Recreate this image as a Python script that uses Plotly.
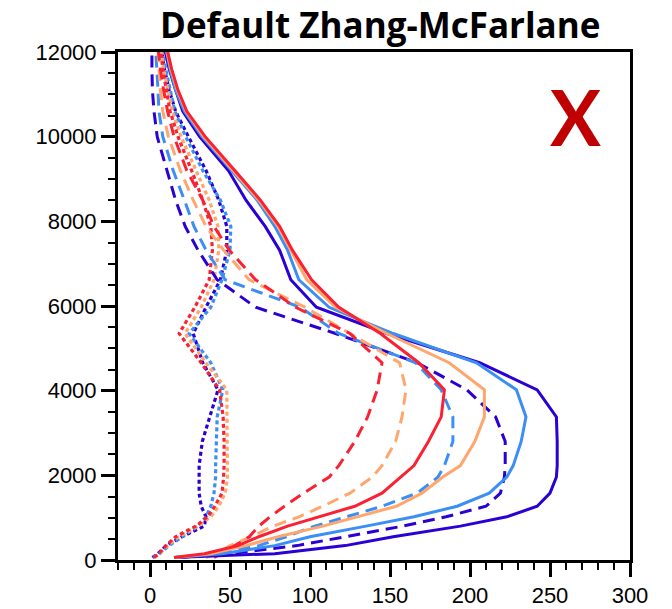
import plotly.graph_objects as go

# Heights (m) shared by every profile
height_m = [60, 150, 340, 550, 800, 1020, 1270, 1580, 1960, 2230, 2800, 3380,
            4020, 4660, 5350, 5970, 6620, 7320, 7880, 8500, 9200, 10000,
            10600, 11100, 11600, 12100]

# Solid profiles
dblue_solid = [15, 78, 122, 152, 194, 223, 242, 250, 254, 254.5, 254.5, 254,
               242, 206, 148, 104, 88, 81, 72, 60, 49, 31, 20.5, 16, 12, 9]
lblue_solid = [15, 45, 78, 100, 135, 165, 192, 212, 223, 227, 232, 235,
               229, 204, 152, 112, 93, 86, 78, 67, 51, 32.5, 21.5, 16, 12.5, 10]
orange_solid = [15, 38, 60, 80, 108, 130, 154, 170, 183, 194, 203, 209,
                209, 187, 148, 116, 98, 88, 80, 68, 52, 33.5, 22.5, 17, 13, 10]
red_solid = [15, 34, 55, 68, 86, 105, 128, 145, 157, 165, 174, 182,
             184, 168, 144, 118, 101, 89, 81, 69, 53, 34.5, 23, 17.5, 13.5, 10.5]

# Dashed profiles
dblue_dash = [18, 50, 92, 121, 158, 185, 210, 219, 221.5, 222, 222, 216,
              198, 167, 116, 66, 42, 30, 22, 16, 10.5, 4.5, 2.5, 1.5, 1.2, 1.2]
lblue_dash = [20, 40, 68, 85, 103, 122, 145, 167, 180, 184, 189.3, 189.3,
              182, 166, 118, 94, 47, 35, 27.5, 21.5, 14.5, 8, 5.6, 5, 4, 3.5]
orange_dash = [35, 42, 50, 63, 77, 93, 108, 125, 139, 145, 153.5, 157.5,
               160, 156, 125, 97, 62, 46, 35, 27, 19, 11.5, 8, 6.5, 5.6, 5]
red_dash = [40, 45, 53, 62, 68, 75, 84, 96, 112, 118, 128, 136,
            142, 145, 125, 91, 66, 49.5, 40, 33, 23, 15, 11, 8.5, 6.5, 5]

# Dotted profiles
dblue_dot = [1.5, 5, 10, 20, 34, 35, 32, 30.7, 30.7, 30.7, 32.7, 37.5,
             42.5, 33, 27, 35, 44, 48, 48, 43, 35, 24, 16, 12, 9, 7]
lblue_dot = [2, 6, 12, 20, 30, 35, 38, 40, 41, 41, 41.3, 42,
             45.5, 38, 24.5, 38, 45, 50, 50.5, 44, 33, 22.3, 15.5, 12.5, 9.8, 7.5]
orange_dot = [3, 6, 11, 18, 30, 38, 43, 47, 48.4, 48.4, 48.4, 48.4,
              48, 35, 21.9, 32, 40, 43, 42.5, 37, 29, 19.5, 14, 11, 8.5, 7]
red_dot = [2.5, 5.5, 10, 16, 28.6, 36, 40.5, 45, 46, 46.3, 46.3, 45.7,
           43.5, 32, 18.2, 28, 37, 39, 38, 33, 26, 17.5, 12.5, 10, 8, 6.5]

x_ticks = [0, 50, 100, 150, 200, 250, 300]
y_ticks = [0, 2000, 4000, 6000, 8000, 10000, 12000]

DBLUE, LBLUE, ORANGE, RED = "#2a00d4", "#3b8ef5", "#ffa66e", "#fa2232"

series = [
    (dblue_dot, DBLUE, "4px,3px"), (lblue_dot, LBLUE, "4px,3px"),
    (orange_dot, ORANGE, "4px,3px"), (red_dot, RED, "4px,3px"),
    (dblue_dash, DBLUE, "12px,7px"), (lblue_dash, LBLUE, "12px,7px"),
    (orange_dash, ORANGE, "12px,7px"), (red_dash, RED, "12px,7px"),
    (dblue_solid, DBLUE, "solid"), (lblue_solid, LBLUE, "solid"),
    (orange_solid, ORANGE, "solid"), (red_solid, RED, "solid"),
]

fig = go.Figure()
for xs, color, dash in series:
    fig.add_trace(go.Scatter(
        x=xs, y=height_m, mode="lines",
        line=dict(color=color, width=3.2 if dash.startswith("4") else 3, dash=dash),
        showlegend=False, hoverinfo="skip",
    ))

axis_common = dict(
    showgrid=False, zeroline=False, automargin=False,
    showline=True, linecolor="black", linewidth=3, mirror=True,
    ticks="outside", ticklen=14, tickwidth=2.5, tickcolor="black",
    tickfont=dict(family="Liberation Sans", size=22, color="black"),
)

fig.update_layout(
    width=672, height=609,
    margin=dict(l=118, r=42, t=52, b=49),
    plot_bgcolor="white", paper_bgcolor="white",
    xaxis=dict(range=[-20, 300], tickvals=x_ticks,
               ticktext=[str(v) for v in x_ticks], ticklabelstandoff=0,
               minor=dict(dtick=10, tick0=0, ticks="outside", ticklen=7,
                          tickwidth=2, tickcolor="black"),
               **axis_common),
    yaxis=dict(range=[0, 12000], tickvals=y_ticks,
               ticktext=[str(v) for v in y_ticks],
               minor=dict(dtick=500, tick0=0, ticks="outside", ticklen=7,
                          tickwidth=2, tickcolor="black"),
               **axis_common),
    annotations=[
        dict(text="<b>Default Zhang-McFarlane</b>", xref="paper", yref="paper",
             x=0.512, y=1.055, xanchor="center", yanchor="middle",
             showarrow=False, font=dict(family="Open Sans", size=35, color="black")),
        dict(text="<b>X</b>", xref="paper", yref="paper",
             x=0.893, y=0.874, xanchor="center", yanchor="middle",
             showarrow=False, font=dict(family="Lato", size=76, color="#c00000")),
    ],
)

fig.write_html("out.html")
